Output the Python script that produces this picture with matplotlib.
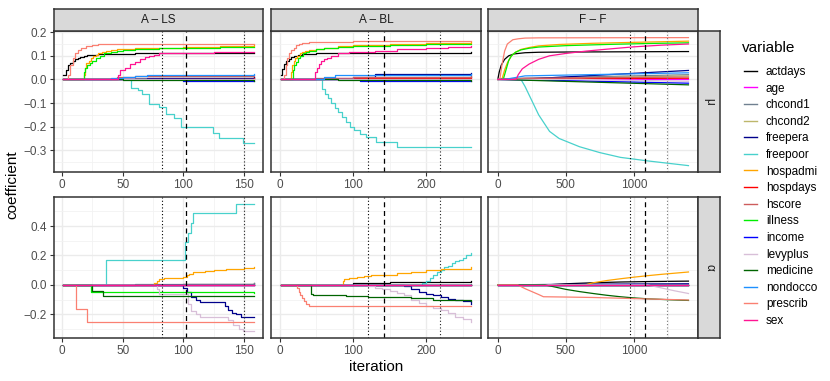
import matplotlib
matplotlib.use("Agg")
import matplotlib.pyplot as plt
from matplotlib.lines import Line2D

plt.rcParams["font.family"] = ["Liberation Sans", "DejaVu Sans"]

# variables and colours (legend order)
variables = ["actdays", "age", "chcond1", "chcond2", "freepera", "freepoor",
             "hospadmi", "hospdays", "hscore", "illness", "income", "levyplus",
             "medicine", "nondocco", "prescrib", "sex"]
var_colors = ["black", "magenta", "slategray", "darkkhaki", "darkblue",
              "mediumturquoise", "orange", "red", "indianred", "#00EE00",
              "blue", "thistle", "darkgreen", "dodgerblue", "salmon", "deeppink"]

methods = ["A – LS", "A – BL", "F – F"]
params = ["μ", "α"]
iter_start = [1, 1, 0]
iter_end = [158, 262, 1400]
x_ticks = [[0, 50, 100, 150], [0, 100, 200], [0, 500, 1000]]
x_minor = [[25, 75, 125], [50, 150, 250], [250, 750, 1250]]
x_lims = [(-6.5, 165.5), (-12, 275), (-72, 1470)]
y_ticks = [[-0.3, -0.2, -0.1, 0.0, 0.1, 0.2], [-0.2, 0.0, 0.2, 0.4]]
y_minor = [[-0.35, -0.25, -0.15, -0.05, 0.05, 0.15], [-0.3, -0.1, 0.1, 0.3, 0.5]]
y_lims = [(-0.392, 0.205), (-0.36, 0.597)]
dotted_lines = [[82, 150], [120, 219], [970, 1243]]
dotted_colors = [["black", "#222222"], ["black", "#222222"], ["black", "#777777"]]
dashed_lines = [102, 143, 1081]

# coefficient paths, row mu
ls_mu = {
    "actdays": ([1, 3, 5, 7, 9, 11, 13, 15, 18, 21, 25, 30, 40, 60, 80, 158],
                [0.02, 0.04, 0.06, 0.07, 0.08, 0.085, 0.09, 0.095, 0.1, 0.102, 0.105, 0.107, 0.108, 0.11, 0.112, 0.112]),
    "chcond1": ([1, 60, 158], [0, 0.008, 0.012]),
    "chcond2": ([1, 80, 158], [0, 0.005, 0.008]),
    "freepera": ([1, 70, 90, 158], [0, 0.005, 0.008, 0.01]),
    "freepoor": ([1, 57, 63, 66, 72, 80, 86, 92, 98, 124, 129, 149, 158],
                 [0, -0.035, -0.045, -0.06, -0.105, -0.115, -0.145, -0.165, -0.2, -0.225, -0.25, -0.27, -0.27]),
    "hospadmi": ([1, 18, 19, 20, 22, 24, 26, 28, 30, 33, 36, 40, 45, 50, 60, 80, 100, 130, 158],
                 [0, 0.02, 0.05, 0.07, 0.08, 0.09, 0.1, 0.105, 0.11, 0.115, 0.12, 0.125, 0.128, 0.13, 0.132, 0.135, 0.138, 0.142, 0.145]),
    "hospdays": ([1, 70, 158], [0, 0.003, 0.005]),
    "hscore": ([1, 45, 60, 158], [0, 0.01, 0.015, 0.018]),
    "illness": ([1, 18, 19, 21, 23, 25, 28, 31, 35, 40, 45, 50, 60, 70, 80, 100, 130, 158],
                [0, 0.03, 0.05, 0.06, 0.07, 0.08, 0.09, 0.1, 0.11, 0.115, 0.12, 0.125, 0.128, 0.13, 0.132, 0.135, 0.137, 0.139]),
    "income": ([1, 100, 158], [0, -0.005, -0.005]),
    "medicine": ([1, 50, 158], [0, -0.003, -0.005]),
    "nondocco": ([1, 40, 50, 60, 70, 100, 158], [0, 0.005, 0.012, 0.015, 0.018, 0.02, 0.022]),
    "prescrib": ([1, 5, 7, 9, 11, 13, 16, 20, 25, 30, 60, 158],
                 [0, 0.02, 0.06, 0.09, 0.11, 0.125, 0.135, 0.14, 0.145, 0.15, 0.15, 0.152]),
    "sex": ([1, 46, 48, 52, 56, 60, 64, 68, 72, 76, 80, 100, 125, 158],
            [0, 0.02, 0.04, 0.05, 0.065, 0.075, 0.085, 0.095, 0.1, 0.105, 0.11, 0.112, 0.115, 0.118]),
}
bl_mu = {
    "actdays": ([1, 3, 6, 9, 12, 16, 20, 25, 30, 40, 50, 70, 100, 262],
                [0.02, 0.045, 0.065, 0.078, 0.088, 0.095, 0.1, 0.103, 0.106, 0.108, 0.11, 0.112, 0.113, 0.115]),
    "chcond1": ([1, 120, 262], [0, 0.01, 0.02]),
    "chcond2": ([1, 150, 262], [0, 0.005, 0.01]),
    "freepera": ([1, 100, 130, 262], [0, 0.01, 0.025, 0.027]),
    "freepoor": ([1, 58, 62, 66, 70, 75, 80, 85, 90, 96, 102, 110, 118, 131, 160, 262],
                 [0, -0.04, -0.06, -0.08, -0.1, -0.12, -0.14, -0.16, -0.18, -0.2, -0.215, -0.23, -0.245, -0.265, -0.287, -0.287]),
    "hospadmi": ([1, 16, 17, 19, 21, 24, 27, 30, 35, 40, 50, 60, 80, 100, 150, 200, 262],
                 [0, 0.03, 0.06, 0.08, 0.09, 0.1, 0.11, 0.115, 0.12, 0.125, 0.13, 0.135, 0.14, 0.145, 0.15, 0.155, 0.158]),
    "hospdays": ([1, 60, 262], [0, 0.005, 0.01]),
    "hscore": ([1, 50, 100, 262], [0, 0.005, 0.01, 0.015]),
    "illness": ([1, 18, 20, 22, 25, 28, 32, 36, 40, 50, 60, 80, 100, 150, 200, 262],
                [0, 0.04, 0.06, 0.075, 0.09, 0.1, 0.11, 0.115, 0.12, 0.127, 0.132, 0.138, 0.142, 0.146, 0.149, 0.151]),
    "income": ([1, 110, 262], [0, -0.005, -0.008]),
    "medicine": ([1, 80, 262], [0, -0.002, -0.005]),
    "nondocco": ([1, 60, 75, 262], [0, 0.01, 0.02, 0.025]),
    "prescrib": ([1, 6, 8, 10, 13, 16, 19, 22, 26, 30, 40, 60, 100, 262],
                 [0, 0.02, 0.06, 0.09, 0.11, 0.125, 0.135, 0.145, 0.15, 0.155, 0.158, 0.16, 0.162, 0.163]),
    "sex": ([1, 48, 51, 54, 57, 60, 64, 70, 80, 95, 110, 130, 160, 200, 230, 262],
            [0, 0.03, 0.05, 0.065, 0.08, 0.085, 0.09, 0.1, 0.11, 0.115, 0.118, 0.122, 0.127, 0.132, 0.137, 0.14]),
}
ff_mu = {
    "actdays": ([0, 10, 25, 50, 80, 120, 200, 300, 500, 1400],
                [0, 0.03, 0.06, 0.085, 0.1, 0.108, 0.113, 0.115, 0.116, 0.118]),
    "chcond1": ([0, 200, 1400], [0, 0.005, 0.02]),
    "chcond2": ([0, 300, 1400], [0, 0.003, 0.015]),
    "freepera": ([0, 150, 1400], [0, 0, 0.038]),
    "freepoor": ([0, 170, 200, 250, 300, 380, 450, 600, 750, 900, 1100, 1250, 1400],
                 [0, 0, -0.03, -0.09, -0.15, -0.22, -0.25, -0.285, -0.31, -0.33, -0.345, -0.355, -0.365]),
    "hospadmi": ([0, 30, 50, 70, 100, 130, 170, 230, 300, 450, 700, 1000, 1400],
                 [0, 0, 0.04, 0.07, 0.1, 0.115, 0.127, 0.135, 0.142, 0.148, 0.153, 0.157, 0.162]),
    "hospdays": ([0, 300, 1400], [0, 0.003, 0.005]),
    "hscore": ([0, 200, 1400], [0, 0.005, 0.01]),
    "illness": ([0, 40, 60, 80, 100, 130, 170, 230, 300, 500, 800, 1100, 1400],
                [0, 0, 0.04, 0.08, 0.1, 0.115, 0.125, 0.132, 0.137, 0.143, 0.148, 0.152, 0.155]),
    "income": ([0, 300, 1400], [0, -0.003, -0.016]),
    "levyplus": ([0, 600, 1400], [0, 0, -0.008]),
    "medicine": ([0, 300, 1400], [0, -0.005, -0.023]),
    "nondocco": ([0, 50, 200, 1400], [0, 0, 0.015, 0.028]),
    "prescrib": ([0, 15, 30, 50, 70, 110, 150, 200, 300, 1400],
                 [0, 0, 0.06, 0.12, 0.15, 0.168, 0.172, 0.175, 0.176, 0.177]),
    "sex": ([0, 135, 150, 180, 230, 300, 380, 500, 650, 800, 1000, 1200, 1400],
            [0, 0, 0.02, 0.045, 0.065, 0.085, 0.1, 0.11, 0.12, 0.128, 0.138, 0.145, 0.15]),
}

# coefficient paths, row alpha
ls_alpha = {
    "actdays": ([1, 70, 100, 158], [0, 0.003, 0.008, 0.015]),
    "chcond1": ([1, 60, 158], [0, 0.005, 0.01]),
    "freepera": ([1, 100, 103, 106, 110, 114, 134, 137, 140, 143, 147, 158],
                 [0, -0.02, -0.05, -0.08, -0.1, -0.115, -0.14, -0.17, -0.19, -0.2, -0.215, -0.215]),
    "freepoor": ([1, 36, 101, 104, 106, 108, 143, 158], [0, 0.17, 0.29, 0.35, 0.42, 0.49, 0.55, 0.55]),
    "hospadmi": ([1, 76, 78, 80, 84, 90, 100, 103, 105, 108, 112, 118, 125, 135, 145, 150, 158],
                 [0, 0.015, 0.03, 0.04, 0.045, 0.05, 0.055, 0.065, 0.075, 0.085, 0.09, 0.095, 0.1, 0.105, 0.11, 0.118, 0.12]),
    "illness": ([1, 24, 158], [0, -0.05, -0.053]),
    "levyplus": ([1, 78, 80, 104, 106, 110, 114, 137, 141, 146, 149, 158],
                 [0, -0.03, -0.06, -0.13, -0.18, -0.2, -0.22, -0.24, -0.27, -0.3, -0.31, -0.315]),
    "medicine": ([1, 25, 34, 158], [0, -0.04, -0.075, -0.075]),
    "prescrib": ([1, 12, 21, 158], [0, -0.16, -0.25, -0.25]),
}
bl_alpha = {
    "actdays": ([1, 60, 100, 150, 200, 262], [0, 0.003, 0.01, 0.018, 0.022, 0.025]),
    "chcond1": ([1, 150, 262], [0, 0.003, 0.008]),
    "freepera": ([1, 170, 180, 190, 200, 210, 220, 230, 240, 250, 262],
                 [0, -0.01, -0.03, -0.045, -0.06, -0.07, -0.085, -0.095, -0.105, -0.11, -0.13]),
    "freepoor": ([1, 195, 200, 205, 210, 215, 220, 225, 230, 235, 240, 245, 250, 255, 262],
                 [0, 0.01, 0.03, 0.05, 0.07, 0.09, 0.1, 0.12, 0.13, 0.15, 0.16, 0.17, 0.185, 0.2, 0.215]),
    "hospadmi": ([1, 86, 88, 95, 105, 115, 125, 140, 160, 180, 200, 220, 240, 262],
                 [0, 0.03, 0.04, 0.045, 0.055, 0.06, 0.065, 0.07, 0.08, 0.09, 0.1, 0.105, 0.11, 0.12]),
    "levyplus": ([1, 120, 130, 140, 150, 160, 170, 180, 190, 200, 210, 220, 230, 240, 250, 262],
                 [0, -0.01, -0.02, -0.03, -0.04, -0.055, -0.07, -0.1, -0.12, -0.14, -0.155, -0.17, -0.19, -0.215, -0.23, -0.25]),
    "medicine": ([1, 42, 45, 60, 90, 120, 150, 180, 210, 240, 262],
                 [0, -0.06, -0.068, -0.07, -0.075, -0.08, -0.085, -0.09, -0.1, -0.105, -0.11]),
    "prescrib": ([1, 24, 26, 28, 30, 33, 36, 40, 262],
                 [0, -0.02, -0.05, -0.07, -0.09, -0.11, -0.13, -0.145, -0.145]),
}
ff_alpha = {
    "actdays": ([0, 350, 500, 700, 900, 1100, 1400], [0, 0, 0.008, 0.015, 0.02, 0.023, 0.026]),
    "freepera": ([0, 350, 600, 1400], [0, 0.003, 0.005, 0.008]),
    "hospadmi": ([0, 640, 700, 800, 900, 1000, 1100, 1200, 1300, 1400],
                 [0, 0, 0.015, 0.03, 0.042, 0.053, 0.063, 0.072, 0.08, 0.088]),
    "levyplus": ([0, 1100, 1200, 1300, 1400], [0, 0, -0.02, -0.04, -0.058]),
    "medicine": ([0, 346, 400, 500, 600, 700, 800, 900, 1000, 1100, 1250, 1400],
                 [0, 0, -0.01, -0.03, -0.045, -0.058, -0.07, -0.08, -0.088, -0.094, -0.1, -0.105]),
    "prescrib": ([0, 147, 200, 250, 300, 335, 500, 700, 900, 1100, 1400],
                 [0, 0, -0.025, -0.045, -0.065, -0.08, -0.082, -0.085, -0.09, -0.095, -0.102]),
}

panel_data = [[ls_mu, bl_mu, ff_mu], [ls_alpha, bl_alpha, ff_alpha]]
step_style = [True, True, False]

W, H = 830, 381
fig = plt.figure(figsize=(W / 100, H / 100), dpi=100)

col_px = [(54, 263), (271, 481), (488, 698)]
row_px = [(31, 172), (197, 338)]
border = "#333333"
grid_col = "#EBEBEB"
tick_col = "#4D4D4D"


def px_axes(x0, y0, x1, y1):
    return fig.add_axes([x0 / W, 1 - y1 / H, (x1 - x0) / W, (y1 - y0) / H])


def strip(ax, label, rot):
    ax.set_facecolor("#D9D9D9")
    ax.set_xticks([])
    ax.set_yticks([])
    for sp in ax.spines.values():
        sp.set_color(border)
        sp.set_linewidth(1.1)
    ax.text(0.5, 0.5, label, ha="center", va="center", rotation=rot,
            fontsize=8.5, color="#1A1A1A", transform=ax.transAxes)


for r in range(2):
    for c in range(3):
        ax = px_axes(col_px[c][0], row_px[r][0], col_px[c][1], row_px[r][1])
        ax.set_xlim(*x_lims[c])
        ax.set_ylim(*y_lims[r])
        ax.set_xticks(x_ticks[c])
        ax.set_xticks(x_minor[c], minor=True)
        ax.set_yticks(y_ticks[r])
        ax.set_yticks(y_minor[r], minor=True)
        ax.grid(which="major", color=grid_col, lw=1.0)
        ax.grid(which="minor", color="#F2F2F2", lw=0.6)
        ax.set_axisbelow(True)
        ax.tick_params(which="minor", length=0)
        ax.tick_params(which="major", length=3.2, width=0.8, color=border,
                       labelcolor=tick_col, labelsize=8.5, pad=2)
        ax.set_xticklabels([str(v) for v in x_ticks[c]])
        if c == 0:
            ax.set_yticklabels([f"{v:.1f}".replace("-", "\u2212") for v in y_ticks[r]])
        else:
            ax.tick_params(axis="y", left=False, labelleft=False)
        for sp in ax.spines.values():
            sp.set_color(border)
            sp.set_linewidth(1.1)

        data = panel_data[r][c]
        ds = "steps-post" if step_style[c] else "default"
        for name, col in zip(variables, var_colors):
            if name in data:
                xs, ys = data[name]
            else:
                xs, ys = [iter_start[c], iter_end[c]], [0, 0]
            ax.plot(xs, ys, color=col, lw=0.9, drawstyle=ds)

        for v, vc in zip(dotted_lines[c], dotted_colors[c]):
            ax.axvline(v, color=vc, lw=0.8, ls=(0, (1, 2)))
        ax.axvline(dashed_lines[c], color="black", lw=0.9, ls=(0, (4, 3)))

        if r == 0:
            strip(px_axes(col_px[c][0], 9, col_px[c][1], 31), methods[c], 0)
        if c == 2:
            strip(px_axes(698, row_px[r][0], 720, row_px[r][1]), params[r], -90)

fig.text(376 / W, 1 - 367 / H, "iteration", ha="center", va="center", fontsize=11)
fig.text(12 / W, 1 - 185 / H, "coefficient", ha="center", va="center",
         rotation=90, fontsize=11)

# legend
fig.text(742 / W, 1 - 48 / H, "variable", ha="left", va="center", fontsize=11)
handles = [Line2D([], [], color=col, lw=1.0) for col in var_colors]
fig.legend(handles, variables, loc="upper left",
           bbox_to_anchor=(744 / W, 1 - 66 / H), frameon=False, fontsize=8.5,
           handlelength=1.1, handletextpad=0.75, labelspacing=0.39,
           borderaxespad=0, borderpad=0)

fig.savefig("out.png", dpi=100)
